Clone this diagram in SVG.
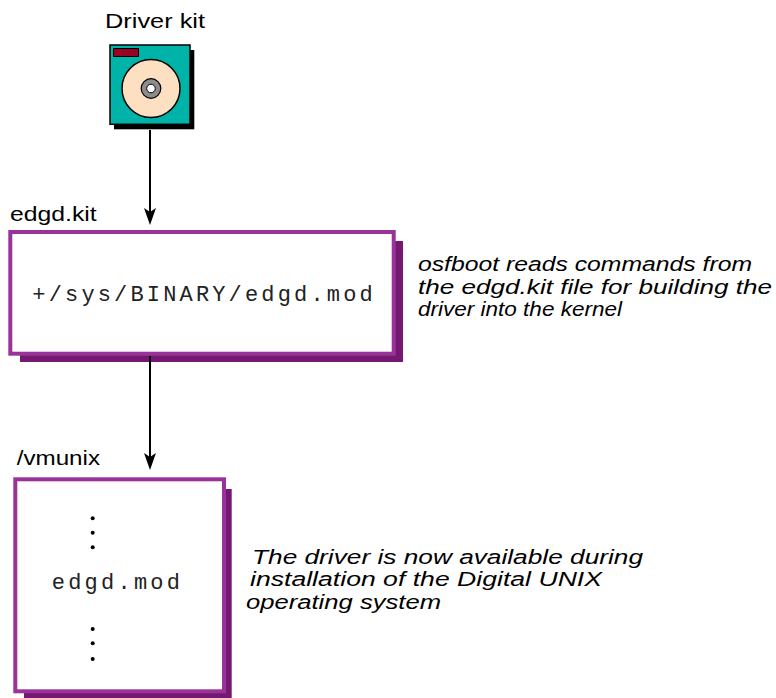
<svg xmlns="http://www.w3.org/2000/svg" width="776" height="698" viewBox="0 0 776 698">
  <style>
    .lbl { font-family: "Liberation Sans", Arial, sans-serif; font-size: 20px; fill: #000; }
    .note { font-family: "Liberation Sans", Arial, sans-serif; font-size: 20px; font-style: italic; fill: #000; }
    .mono { font-family: "Liberation Mono", "Courier New", monospace; font-size: 22px; fill: #222; }
    .frame { fill: #fff; stroke: #993399; stroke-width: 4; }
    .shadow { fill: #751872; }
    .conn { stroke: #000; stroke-width: 2; fill: none; marker-end: url(#arr); }
    .ink { stroke: #000; stroke-width: 1.5; }
  </style>
  <defs>
    <marker id="arr" markerUnits="userSpaceOnUse" markerWidth="18" markerHeight="14" refX="9" refY="6" orient="auto" overflow="visible">
      <path d="M0,0 L17,6 L0,12 L4,6 Z" fill="#000"/>
    </marker>
  </defs>

  <rect width="776" height="698" fill="#fff"/>

  <g id="driver-kit">
    <text class="lbl" x="105" y="28.3" textLength="100" lengthAdjust="spacingAndGlyphs">Driver kit</text>
    <rect x="114" y="50" width="80.3" height="79.3" fill="#000"/>
    <rect class="ink" x="110" y="45" width="80" height="79.3" fill="#00b3a8"/>
    <rect x="113.5" y="48.5" width="25" height="8" fill="#990022" stroke="#000" stroke-width="1"/>
    <circle class="ink" cx="151" cy="88.5" r="29" fill="#fde0c2"/>
    <circle cx="151" cy="88.5" r="9.8" fill="#8c8c8c" stroke="#000" stroke-width="1.2"/>
    <circle cx="151" cy="88.5" r="4.3" fill="#fff" stroke="#000" stroke-width="1"/>
  </g>

  <g id="edgd-kit">
    <text class="lbl" x="10" y="221" textLength="86.7" lengthAdjust="spacingAndGlyphs">edgd.kit</text>
    <rect class="shadow" x="20" y="241" width="383" height="121"/>
    <rect class="frame" x="10.3" y="232" width="383.4" height="121.7"/>
    <text class="mono" x="32.3" y="301" textLength="340.4" lengthAdjust="spacing">+/sys/BINARY/edgd.mod</text>
  </g>

  <g id="note-osfboot">
    <text class="note" x="418" y="271" textLength="334" lengthAdjust="spacingAndGlyphs">osfboot reads commands from</text>
    <text class="note" x="418" y="293.5" textLength="354" lengthAdjust="spacingAndGlyphs">the edgd.kit file for building the</text>
    <text class="note" x="418" y="316" textLength="204" lengthAdjust="spacingAndGlyphs">driver into the kernel</text>
  </g>

  <g id="vmunix">
    <text class="lbl" x="16.7" y="465" textLength="83.3" lengthAdjust="spacingAndGlyphs">/vmunix</text>
    <rect class="shadow" x="24" y="489" width="207.7" height="209"/>
    <rect class="frame" x="15.3" y="479.3" width="208.7" height="212"/>
    <g fill="#000">
      <circle cx="92.7" cy="518.3" r="2"/>
      <circle cx="92.7" cy="532.7" r="2"/>
      <circle cx="92.7" cy="547.3" r="2"/>
      <circle cx="92.7" cy="629" r="2"/>
      <circle cx="92.7" cy="643.3" r="2"/>
      <circle cx="92.7" cy="659" r="2"/>
    </g>
    <text class="mono" x="51.7" y="589" textLength="128.3" lengthAdjust="spacing">edgd.mod</text>
  </g>

  <g id="note-available">
    <text class="note" x="252" y="563.5" textLength="391" lengthAdjust="spacingAndGlyphs">The driver is now available during</text>
    <text class="note" x="250" y="586" textLength="352" lengthAdjust="spacingAndGlyphs">installation of the Digital UNIX</text>
    <text class="note" x="246" y="608.7" textLength="195" lengthAdjust="spacingAndGlyphs">operating system</text>
  </g>

  <g id="connectors">
    <line class="conn" x1="150" y1="130" x2="150" y2="217"/>
    <line class="conn" x1="150" y1="356" x2="150" y2="462"/>
  </g>
</svg>
